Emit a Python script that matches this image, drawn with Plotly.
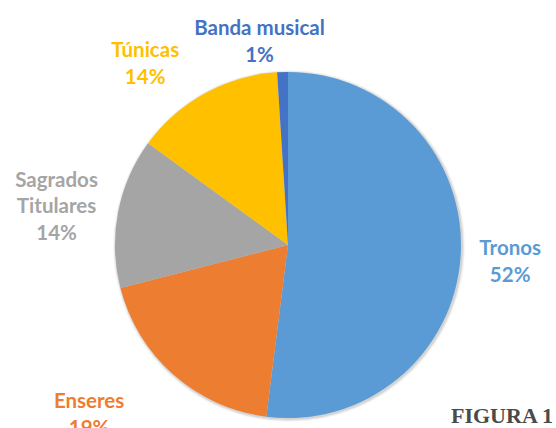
import plotly.graph_objects as go

categories = ["Tronos", "Enseres", "Sagrados<br>Titulares", "Túnicas", "Banda musical"]
values = [52, 19, 14, 14, 1]
colors = ["#5B9BD5", "#ED7D31", "#A5A5A5", "#FFC000", "#4472C4"]

W, H = 556, 428
cx, cy, R = 288, 245, 173   # visible pie (pixels)


def dom(x0, y0, r):
    return dict(x=[(x0 - r) / W, (x0 + r) / W],
                y=[max(0, 1 - (y0 + r) / H), min(1, 1 - (y0 - r) / H)])


common = dict(labels=categories, values=values, sort=False, direction="clockwise",
              rotation=0, showlegend=False, hoverinfo="skip", automargin=False)

fig = go.Figure()

# faint shadow behind the pie
for grow, alpha in [(3, 0.04), (2, 0.06), (1, 0.08)]:
    r = R + grow
    fig.add_shape(type="circle", xref="paper", yref="paper", layer="below",
                  x0=(cx + 1 - r) / W, x1=(cx + 1 + r) / W,
                  y0=1 - (cy + 1 + r) / H, y1=1 - (cy + 1 - r) / H,
                  fillcolor=f"rgba(0,0,0,{alpha})", line=dict(width=0))

# visible pie
fig.add_trace(go.Pie(**common, marker=dict(colors=colors, line=dict(width=0)),
                     textinfo="none", domain=dom(cx, cy, R)))

# invisible label carriers: (slice index, centre x, centre y, radius)
n = len(categories)
carriers = [
    (0, cx, cy + 4, 179),
    (1, cx - 75, cy + 68, 115),
    (2, cx + 9, cy - 4, 183),
    (3, cx - 8, cy - 3, 183),
    (4, cx + 55, cy - 3, 176),
]
for k, x0, y0, r in carriers:
    fig.add_trace(go.Pie(
        **common,
        marker=dict(colors=["rgba(0,0,0,0)"] * n, line=dict(width=0)),
        textinfo="none",
        texttemplate="%{label}<br>%{percent:.0%}",
        textposition=["outside" if i == k else "none" for i in range(n)],
        textfont=dict(family="Lato", size=20.5, color=colors, weight="bold"),
        domain=dom(x0, y0, r),
    ))

fig.add_annotation(
    text="FIGURA 1", xref="paper", yref="paper", x=555 / W, y=1 - 415 / H,
    xanchor="right", yanchor="middle", showarrow=False,
    font=dict(family="Liberation Serif", size=22, color="#4a4a4a", weight="bold"),
)

fig.update_layout(
    width=W, height=H,
    margin=dict(l=0, r=0, t=0, b=0, autoexpand=False),
    paper_bgcolor="white", plot_bgcolor="white",
)
fig.write_html("out.html")
